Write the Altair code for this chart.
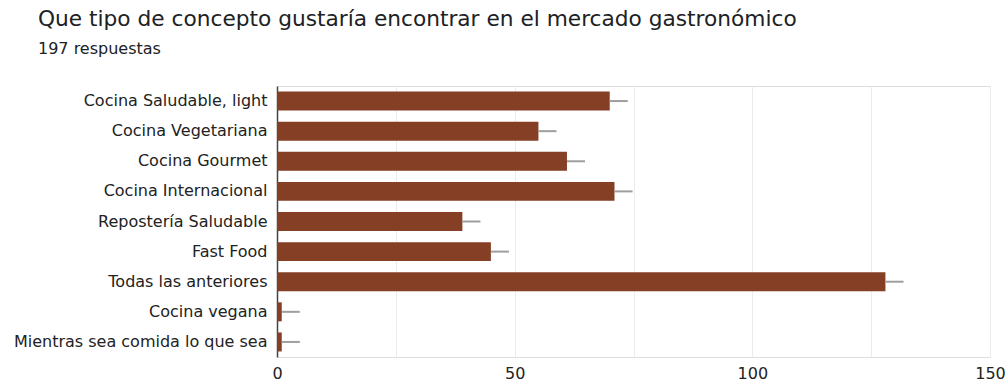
import altair as alt
import pandas as pd

categories = [
    "Cocina Saludable, light",
    "Cocina Vegetariana",
    "Cocina Gourmet",
    "Cocina Internacional",
    "Repostería Saludable",
    "Fast Food",
    "Todas las anteriores",
    "Cocina vegana",
    "Mientras sea comida lo que sea",
]
counts = [70, 55, 61, 71, 39, 45, 128, 1, 1]
errors = [3.8, 3.8, 3.8, 3.8, 3.8, 3.8, 3.8, 3.8, 3.8]
x_ticks = [0, 25, 50, 75, 100, 125, 150]

df = pd.DataFrame({"cat": categories, "n": counts, "err": errors})

FONT = "DejaVu Sans"

y_enc = alt.Y(
    "cat:N",
    sort=None,
    title=None,
    scale=alt.Scale(paddingInner=0.37, paddingOuter=0.185),
    axis=alt.Axis(
        ticks=False,
        labelPadding=10,
        labelFontSize=16,
        labelFont=FONT,
        labelColor="#222222",
        domainColor="#444444",
        domainWidth=1.5,
        labelLimit=400,
    ),
)

bars = alt.Chart(df).mark_bar(color="#843F24").encode(
    x=alt.X(
        "n:Q",
        title=None,
        scale=alt.Scale(domain=[0, 150], nice=False),
        axis=alt.Axis(
            values=x_ticks,
            labelExpr="datum.value % 50 === 0 ? datum.label : ''",
            ticks=False,
            domain=False,
            gridColor="#ebebeb",
            gridWidth=1,
            labelFontSize=16,
            labelFont=FONT,
            labelColor="#222222",
            labelPadding=8,
            labelFlush=False,
            labelOverlap=False,
        ),
    ),
    y=y_enc,
)

errs = alt.Chart(df).transform_calculate(hi="datum.n + datum.err").mark_rule(
    color="#9e9e9e", strokeWidth=2
).encode(
    x="n:Q",
    x2="hi:Q",
    y=alt.Y("cat:N", sort=None),
)

chart = (
    alt.layer(bars, errs)
    .properties(
        width=713,
        height=271,
        autosize=alt.AutoSizeParams(type="none"),
        padding={"left": 277, "top": 86, "right": 18, "bottom": 24},
        title=alt.TitleParams(
            text="Que tipo de concepto gustaría encontrar en el mercado gastronómico",
            subtitle="197 respuestas",
            anchor="start",
            frame="group",
            dx=-239,
            offset=29,
            font=FONT,
            fontSize=21.7,
            fontWeight="normal",
            color="#202124",
            subtitleFont=FONT,
            subtitleFontSize=16,
            subtitleColor="#202124",
            subtitlePadding=10,
        ),
    )
    .configure_view(stroke="#ebebeb", strokeWidth=1)
    .configure(background="white")
)

chart.save("out.html", embed_options={"renderer": "svg", "actions": False})
